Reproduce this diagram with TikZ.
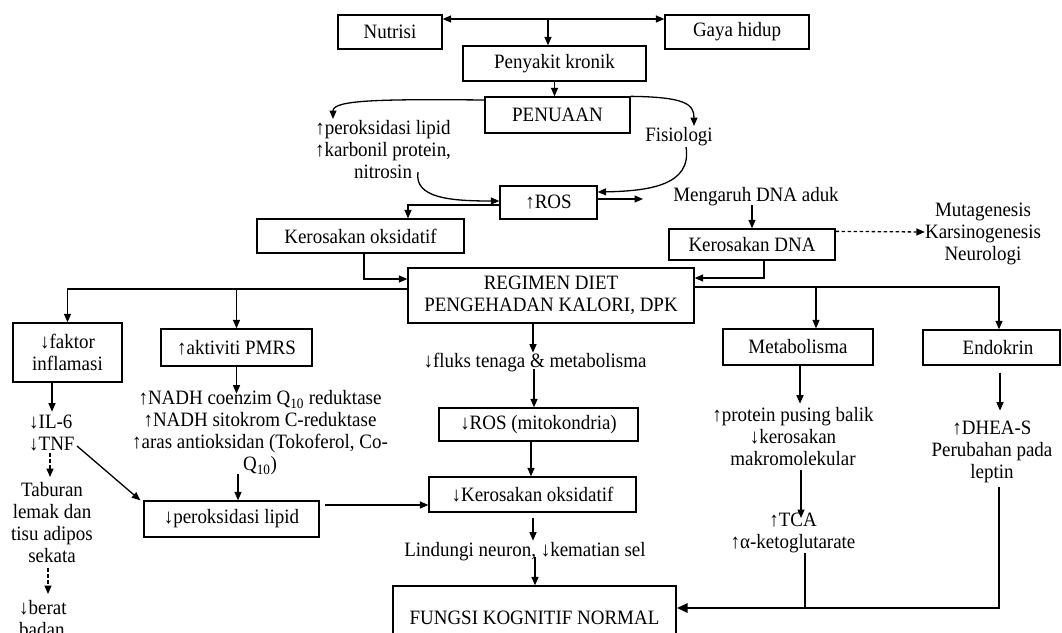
\documentclass[tikz,border=0pt]{standalone}
\usepackage{fontspec}
\setmainfont{Liberation Serif}[FakeStretch=0.93]
\usetikzlibrary{arrows.meta,calc}
\newcommand\upar{{\bfseries ↑}}
\newcommand\dnar{{\bfseries ↓}}
\tikzset{
  every node/.style={font=\fontsize{20.4}{22}\selectfont, inner sep=0pt},
  bx/.style={draw, line width=1.3pt, align=center},
  txt/.style={align=center},
  arr/.style={line width=1.3pt, -{Triangle[length=8.5pt,width=7pt]}},
  biarr/.style={line width=1.3pt, {Triangle[length=8.5pt,width=7pt]}-{Triangle[length=8.5pt,width=7pt]}},
  darr/.style={arr, dash pattern=on 3.5pt off 2.5pt},
  fat/.style={line width=2.8pt},
  fatarr/.style={line width=2.8pt, -{Triangle[length=11pt,width=9pt]}}
}
\begin{document}
\begin{tikzpicture}[x=1pt,y=-1pt]
\fill[white] (0,0) rectangle (1062,632);
\useasboundingbox (0,0) rectangle (1062,632);

% ---------- boxes ----------
\node[bx,minimum width=104pt,minimum height=34pt] (nutrisi) at (390,32) {Nutrisi};
\node[bx,minimum width=144pt,minimum height=34pt] (gaya) at (737,32) {Gaya hidup};
\node[bx,minimum width=183pt,minimum height=35pt] (penyakit) at (554.5,63.5) {Penyakit kronik};
\node[bx,minimum width=145pt,minimum height=36pt] (penuaan) at (557.5,115) {PENUAAN};
\node[bx,minimum width=97pt,minimum height=33pt] (ros) at (548.5,202.5) {\upar ROS};
\node[bx,minimum width=207pt,minimum height=34pt] (kerok) at (360.5,236) {Kerosakan oksidatif};
\node[bx,minimum width=166pt,minimum height=31pt] (kerdna) at (752,244.5) {Kerosakan DNA};
\node[bx,minimum width=286pt,minimum height=55pt] (regimen) at (551,295.5) {REGIMEN DIET\\PENGEHADAN KALORI, DPK};
\node[bx,minimum width=109pt,minimum height=59pt] (faktor) at (67.5,352.5) {\dnar faktor\\inflamasi};
\node[bx,minimum width=151pt,minimum height=37pt] (pmrs) at (236.5,347.5) {\upar aktiviti PMRS};
\node[bx,minimum width=150pt,minimum height=36pt] (metab) at (798,347) {Metabolisma};
\node[bx,minimum width=137pt,minimum height=35pt] (endo) at (991.5,347.5) {\hspace*{13pt}Endokrin};
\node[bx,minimum width=199pt,minimum height=33pt] (rosm) at (538.5,424.5) {\dnar ROS (mitokondria)};
\node[bx,minimum width=175pt,minimum height=36pt] (perok) at (231.5,519) {\dnar peroksidasi lipid};
\node[bx,minimum width=207pt,minimum height=35pt] (kerox) at (532.5,494.5) {\dnar Kerosakan oksidatif};
\node[bx,minimum width=283pt,minimum height=64pt] (fungsi) at (534.5,618) {FUNGSI KOGNITIF NORMAL};

% ---------- free texts ----------
\node[txt] (lefttxt) at (383,150) {\upar peroksidasi lipid\\\upar karbonil protein,\\nitrosin};
\node (fisiologi) at (679,137) {Fisiologi};
\node (mengaruh) at (756,197) {Mengaruh DNA aduk};
\node[txt] (muta) at (983,234) {Mutagenesis\\Karsinogenesis\\Neurologi};
\node (fluks) at (535,363) {\dnar fluks tenaga \& metabolisma};
\node[txt] (nadh) at (260,433) {\upar NADH coenzim Q\textsubscript{10} reduktase\\\upar NADH sitokrom C-reduktase\\\upar aras antioksidan (Tokoferol, Co-\\Q\textsubscript{10})};
\node[align=left,anchor=west] (iltnf) at (29,433) {\dnar IL-6\\\dnar TNF};
\node[txt] (taburan) at (52,523) {Taburan\\lemak dan\\tisu adipos\\sekata};
\node[align=left,anchor=west] (berat) at (19,619) {\dnar berat\\badan};
\node (lindungi) at (525,552) {Lindungi neuron, \dnar kematian sel};
\node[txt] (protein) at (793,437) {\upar protein pusing balik\\\dnar kerosakan\\makromolekular};
\node[txt] (tca) at (793,533) {\upar TCA\\\upar α-ketoglutarate};
\node[txt] (dhea) at (992,452) {\upar DHEA-S\\Perubahan pada\\leptin};

% ---------- helper coordinates ----------
\coordinate (l19) at (0,19);
\coordinate (l100) at (0,100);
\coordinate (l192) at (0,192);
\coordinate (l201) at (0,201);
\coordinate (l205) at (0,205);
\coordinate (l232) at (0,232);
\coordinate (lb) at (0,289);
\coordinate (rb) at (0,287);
\coordinate (jn) at (0,608);
\coordinate (tm) at (548,19);
\coordinate (lctip) at (333,119);
\coordinate (rctip) at (694,126);
\coordinate (nitend) at (418,172);
\coordinate (fisend) at (686,147);
\coordinate (rosout) at (643,199);
\coordinate (metabin) at ($(metab.north)+(18,0)$);
\coordinate (fk) at ($(faktor.south)+(-15.5,0)$);
\coordinate (d1s) at (50,453);
\coordinate (d2s) at (48,568);
\coordinate (tnfs) at (77,446);
\coordinate (pt) at (801,470);
\coordinate (lep) at (999,487);
\coordinate (tcab) at (805,553);

% ---------- connectors: top ----------
\draw[biarr] (nutrisi.east |- l19) -- (gaya.west |- l19);
\draw[arr] (tm) -- (tm |- penyakit.north);
\draw[arr] (penyakit.south) -- (penyakit.south |- penuaan.north);
\draw[arr] (penuaan.west |- l100) .. controls (380,99) and (333,100) .. (lctip);
\draw[arr] (penuaan.north east) .. controls (685,97) and (694,104) .. (rctip);
\draw[arr] (nitend) .. controls (414,198) and (450,201) .. (ros.west |- l201);
\draw[arr] (fisend) .. controls (692,185) and (650,191) .. (ros.east |- l192);
\draw[arr] (ros.west |- l205) -| ($(kerok.north)+(47.5,0)$);
\draw[arr] (ros.east |- rosout) -- (rosout);
\draw[arr] (kerdna.north |- l205) -- (kerdna.north);
\draw[darr] ($(kerdna.north east)+(0,3)$) -- (muta.west |- l232);
\draw[arr] ($(kerdna.south)+(12,0)$) |- ($(regimen.east)+(0,-17.5)$);
\draw[arr] ($(kerok.south)+(3.5,0)$) |- ($(regimen.west)+(0,-16.5)$);

% ---------- branches from regimen ----------
\draw[arr] (regimen.west |- lb) -| (faktor.north);
\draw[arr] (pmrs.north |- lb) -- (pmrs.north);
\draw[arr] (regimen.east |- rb) -| ($(endo.north)+(7.5,0)$);
\draw[arr] (metabin |- rb) -- (metabin);

% ---------- left column ----------
\draw[arr] (fk) -- ++(0,29);
\draw[darr] (d1s) -- ++(0,24);
\draw[darr] (d2s) -- ++(0,26);
\draw[arr] (tnfs) -- ($(perok.north west)+(-3,0)$);
\draw[arr] (pmrs.south) -- ++(0,27);
\draw[arr] ($(perok.north)+(6.5,-26)$) -- ($(perok.north)+(6.5,0)$);
\draw[arr] ($(perok.east)+(5,-14)$) -- ($(kerox.west)+(0,10.5)$);

% ---------- middle column ----------
\draw[arr] ($(regimen.south)+(-18,0)$) -- ++(0,29);
\draw[arr] ($(rosm.north)+(-4.5,-38)$) -- ($(rosm.north)+(-4.5,0)$);
\draw[arr] ($(rosm.south)+(-7.5,0)$) -- ($(kerox.north)+(-1.5,0)$);
\draw[arr] ($(kerox.south)+(0.5,5)$) -- ++(0,23);
\draw[arr] ($(fungsi.north)+(0.5,-28)$) -- ($(fungsi.north)+(0.5,0)$);

% ---------- right columns ----------
\draw[arr] ($(metab.south)+(2,0)$) -- ++(0,38);
\draw[arr] ($(endo.south)+(8.5,7)$) -- ++(0,38);
\draw[arr] (pt) -- ++(0,48);
\draw[fat] (lep) |- (tcab |- jn);
\draw[fatarr] (tcab) |- (fungsi.east |- jn);
\end{tikzpicture}
\end{document}
